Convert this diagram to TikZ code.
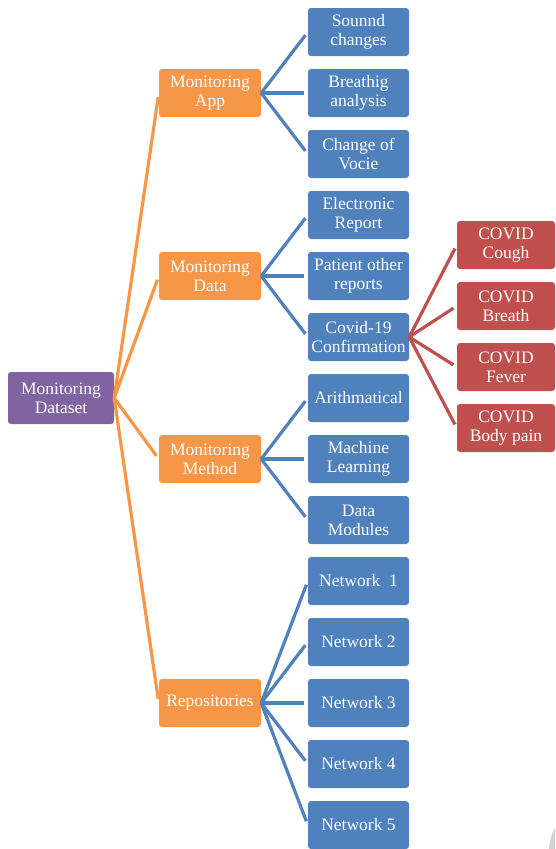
\documentclass[tikz,border=0pt]{standalone}
\usepackage{fontspec}
\setmainfont{Liberation Serif}
\definecolor{cpurple}{HTML}{8064A2}
\definecolor{corange}{HTML}{F79646}
\definecolor{cblue}{HTML}{4F81BD}
\definecolor{cred}{HTML}{C0504D}
\definecolor{cgrey}{HTML}{D2D2D2}
\tikzset{
  box/.style={rounded corners=3pt, text=white, align=center, inner sep=1pt,
    minimum height=48pt, font=\fontsize{17.5}{19}\selectfont},
  rootbox/.style={box, fill=cpurple, minimum width=106pt, minimum height=52pt},
  lvlone/.style={box, fill=corange, minimum width=102pt},
  lvltwo/.style={box, fill=cblue, minimum width=101pt},
  lvlthree/.style={box, fill=cred, minimum width=98pt},
  olink/.style={draw=corange, line width=3.2pt, shorten >=4pt},
  blink/.style={draw=cblue, line width=3.2pt, shorten >=4pt},
  rlink/.style={draw=cred, line width=3.2pt, shorten >=4pt},
}
\begin{document}
\begin{tikzpicture}[x=1pt,y=-1pt]
\useasboundingbox (0,0) rectangle (555,849);
\node[rootbox] (root) at (61,398) {Monitoring\\Dataset};
\node[lvlone] (app) at (210,93) {Monitoring\\App};
\node[lvlone] (data) at (210,276) {Monitoring\\Data};
\node[lvlone] (meth) at (210,459) {Monitoring\\Method};
\node[lvlone] (repo) at (210,703) {Repositories};
\node[lvltwo] (b1) at (358.5,32) {Sounnd\\changes};
\node[lvltwo] (b2) at (358.5,93) {Breathig\\analysis};
\node[lvltwo] (b3) at (358.5,154) {Change of\\Vocie};
\node[lvltwo] (b4) at (358.5,215) {Electronic\\Report};
\node[lvltwo] (b5) at (358.5,276) {Patient other\\reports};
\node[lvltwo] (b6) at (358.5,337) {Covid-19\\Confirmation};
\node[lvltwo] (b7) at (358.5,398) {Arithmatical};
\node[lvltwo] (b8) at (358.5,459) {Machine\\Learning};
\node[lvltwo] (b9) at (358.5,520) {Data\\Modules};
\node[lvltwo] (n1) at (358.5,581) {Network\ \ 1};
\node[lvltwo] (n2) at (358.5,642) {Network 2};
\node[lvltwo] (n3) at (358.5,703) {Network 3};
\node[lvltwo] (n4) at (358.5,764) {Network 4};
\node[lvltwo] (n5) at (358.5,825) {Network 5};
\node[lvlthree] (r1) at (506,245) {COVID\\Cough};
\node[lvlthree] (r2) at (506,306) {COVID\\Breath};
\node[lvlthree] (r3) at (506,367) {COVID\\Fever};
\node[lvlthree] (r4) at (506,428) {COVID\\Body pain};
\foreach \c in {app,data,meth,repo} \draw[olink] (root.east) -- (\c.west);
\foreach \c in {b1,b2,b3} \draw[blink] (app.east) -- (\c.west);
\foreach \c in {b4,b5,b6} \draw[blink] (data.east) -- (\c.west);
\foreach \c in {b7,b8,b9} \draw[blink] (meth.east) -- (\c.west);
\foreach \c in {n1,n2,n3,n4,n5} \draw[blink] (repo.east) -- (\c.west);
\foreach \c in {r1,r2,r3,r4} \draw[rlink] (b6.east) -- (\c.west);
\fill[cgrey] (549,849) .. controls (550,839) and (552,833) .. (555,828) -- (555,849) -- cycle;
\end{tikzpicture}
\end{document}
